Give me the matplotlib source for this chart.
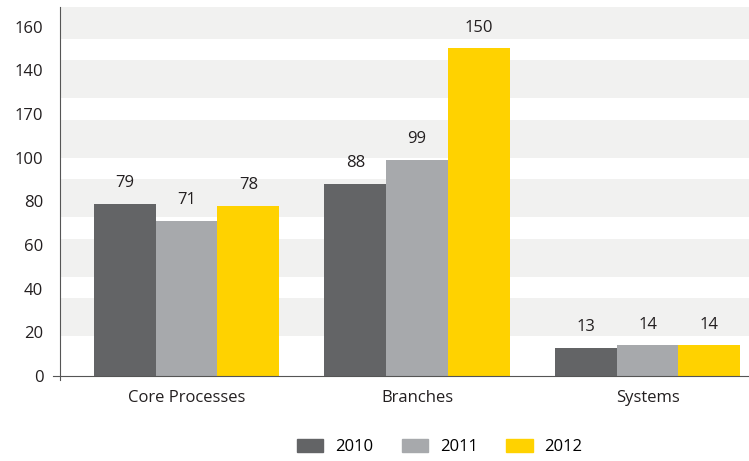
import numpy as np
import matplotlib.pyplot as plt

plt.rcParams['font.family'] = ['Open Sans', 'DejaVu Sans']

categories = ["Core Processes", "Branches", "Systems"]
years = ["2010", "2011", "2012"]
values_2010 = [79, 88, 13]
values_2011 = [71, 99, 14]
values_2012 = [78, 150, 14]
ytick_values = [0, 20, 40, 60, 80, 100, 120, 140, 160]
ytick_labels = ["0", "20", "40", "60", "80", "100", "170", "140", "160"]

colors = ["#636466", "#a7a9ac", "#ffd200"]
series = [values_2010, values_2011, values_2012]

fig = plt.figure(figsize=(7.49, 4.61), dpi=100)
ax = fig.add_axes([60 / 749, 85 / 461, 689 / 749, 369 / 461])

# light horizontal bands behind the bars
band_start, band_h, band_step = 18.3, 17.4, 27.2
for k in range(6):
    lo = band_start + k * band_step
    ax.axhspan(lo, lo + band_h, color="#f1f1f0", lw=0, zorder=0)

x = np.arange(len(categories))
w = 0.268
for i, (vals, c) in enumerate(zip(series, colors)):
    pos = x + (i - 1) * w
    ax.bar(pos, vals, width=w, color=c, zorder=2, label=years[i])
    for px, v in zip(pos, vals):
        ax.annotate(str(v), (px, v), xytext=(0, 9), textcoords="offset points",
                    ha="center", va="bottom", fontsize=12, color="#231f20")

ax.set_xlim(-0.549, 2.44)
ax.set_ylim(0, 169)
ax.set_yticks(ytick_values)
ax.set_yticklabels(ytick_labels)
ax.set_xticks(x)
ax.set_xticklabels(categories)
ax.tick_params(axis="y", length=0, pad=12, labelsize=12, labelcolor="#231f20")
ax.tick_params(axis="x", length=0, pad=10, labelsize=12, labelcolor="#231f20")

for s in ["top", "right"]:
    ax.spines[s].set_visible(False)
ax.spines["left"].set_color("#555555")
ax.spines["bottom"].set_color("#555555")
ax.spines["left"].set_bounds(-1.8, 169)
ax.spines["bottom"].set_bounds(-0.58, 2.44)

handles = [plt.Rectangle((0, 0), 1, 1, color=c) for c in colors]
fig.legend(handles, years, loc="center", bbox_to_anchor=(0.587, 0.03), ncol=3,
           frameon=False, fontsize=12, handlelength=1.6, handleheight=0.8,
           handletextpad=0.7, columnspacing=1.7)

fig.savefig("out.png", dpi=100)
